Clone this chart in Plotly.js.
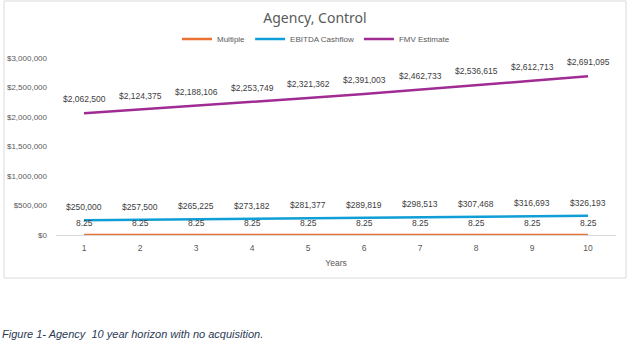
<!DOCTYPE html>
<html><head><meta charset="utf-8">
<script src="https://cdn.plot.ly/plotly-3.0.1.min.js"></script>
<style>html,body{margin:0;padding:0;background:#fff;}#chart{width:632px;height:361px;}</style>
</head><body><div id="chart"></div>
<script>
const years = [1,2,3,4,5,6,7,8,9,10];
const multiple = [8.25,8.25,8.25,8.25,8.25,8.25,8.25,8.25,8.25,8.25];
const ebitda = [250000,257500,265225,273182,281377,289819,298513,307468,316693,326193];
const fmv = [2062500,2124375,2188106,2253749,2321362,2391003,2462733,2536615,2612713,2691095];
const yTicks = [0,500000,1000000,1500000,2000000,2500000,3000000];

const fmtMoney = v => '$' + v.toLocaleString('en-US');
const FONT = 'Liberation Sans, Arial, sans-serif';
const labelFont = {family:FONT, size:8.5, color:'#404040'};

const traces = [
  {x:years, y:multiple, name:'Multiple', mode:'lines', line:{color:'#E97132', width:2.5}, hoverinfo:'skip'},
  {x:years, y:ebitda, name:'EBITDA Cashflow', mode:'lines', line:{color:'#0F9ED5', width:2.5}, hoverinfo:'skip'},
  {x:years, y:fmv, name:'FMV Estimate', mode:'lines', line:{color:'#A02B93', width:2.5}, hoverinfo:'skip'}
];

const L=56, R=616, T=58, B=235, W=R-L, H=B-T;
const px = x => (x-L)/W, py = y => (B-y)/H;

const labelAnns = [];
const addLabels = (vals, fmt, shift) => vals.forEach((v,i) => labelAnns.push({
  x:years[i], y:v, xref:'x', yref:'y', text:fmt(v), showarrow:false,
  xanchor:'center', yanchor:'middle', yshift:shift, font:labelFont}));
addLabels(fmv, fmtMoney, 14);
addLabels(ebitda, fmtMoney, 13);
addLabels(multiple, v=>v.toFixed(2), 12);

const layout = {
  width:632, height:361,
  margin:{l:L, r:632-R, t:T, b:361-B, pad:0},
  paper_bgcolor:'#fff', plot_bgcolor:'#fff',
  font:{family:FONT, size:8, color:'#595959'},
  title:{text:'Agency, Control', x:315/632, xanchor:'center', y:1-18/361, yanchor:'middle', yref:'container',
         font:{family:'Noto Sans, Open Sans, sans-serif', size:14, color:'#595959'}},
  showlegend:true,
  legend:{orientation:'h', x:px(316), xanchor:'center', y:py(39), yanchor:'middle',
          font:{family:FONT, size:8, color:'#595959'}, bgcolor:'rgba(0,0,0,0)',
          itemwidth:30, tracegroupgap:0},
  xaxis:{range:[0.5,10.5], tickvals:years, ticktext:years.map(String), showgrid:false, zeroline:false,
         showline:false, ticks:'', ticklabelstandoff:6, tickfont:{size:8.5, color:'#595959'},
         title:{text:'Years', font:{size:8.5, color:'#595959'}, standoff:8}},
  yaxis:{range:[0,3000000], tickvals:yTicks, ticktext:yTicks.map(fmtMoney), showgrid:false,
         zeroline:true, zerolinecolor:'#d9d9d9', zerolinewidth:1, showline:false, ticks:'',
         ticklabelstandoff:8, tickfont:{size:8, color:'#595959'}},
  shapes:[{type:'rect', xref:'paper', yref:'paper', x0:px(4), x1:px(626), y0:py(278), y1:py(1),
           line:{color:'#d9d9d9', width:1}, fillcolor:'rgba(0,0,0,0)', layer:'below'}],
  annotations:labelAnns.concat([{text:'<i>Figure 1- Agency  10 year horizon with no acquisition.</i>', xref:'paper', yref:'paper',
                x:px(0), y:py(334), xanchor:'left', yanchor:'middle', showarrow:false,
                font:{family:FONT, size:11, color:'#2b3a55'}}])
};

Plotly.newPlot('chart', traces, layout, {displayModeBar:false, staticPlot:true});
</script></body></html>
